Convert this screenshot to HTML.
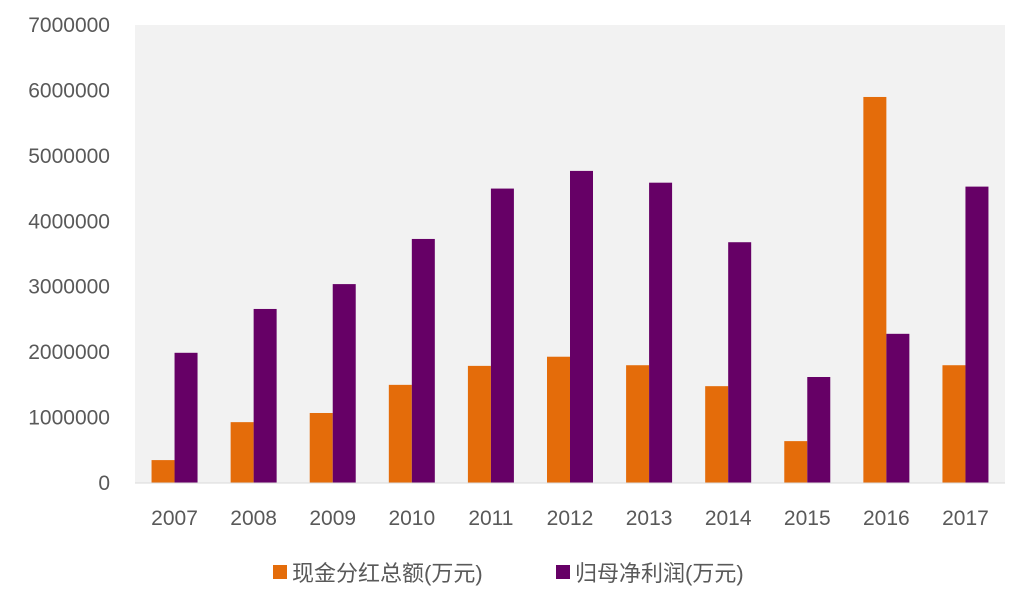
<!DOCTYPE html>
<html><head><meta charset="utf-8"><style>
body{margin:0;background:#fff;width:1017px;height:597px;overflow:hidden}
svg text{font-family:"Liberation Sans","Noto Sans CJK SC",sans-serif;fill:#595959}
</style></head><body>
<svg id="chart" width="1017" height="597"></svg>
<script>
const categories=["2007","2008","2009","2010","2011","2012","2013","2014","2015","2016","2017"];
const dividends=[350000,930000,1070000,1500000,1790000,1930000,1800000,1480000,640000,5900000,1800000];
const profits=[1990000,2660000,3040000,3730000,4500000,4770000,4590000,3680000,1620000,2280000,4530000];
const yTicks=[0,1000000,2000000,3000000,4000000,5000000,6000000,7000000];
const seriesNames=["现金分红总额(万元)","归母净利润(万元)"];
const ns="http://www.w3.org/2000/svg";
const svg=document.getElementById('chart');
const L=135,R=1005,T=25,B=483,yMax=7000000;
const y=v=>B-(v/yMax)*(B-T);
const band=(R-L)/categories.length;
const x=i=>L+band*i;
function mk(t,a,p){const e=document.createElementNS(ns,t);for(const k in a)e.setAttribute(k,a[k]);(p||svg).appendChild(e);return e;}
const bg=mk('rect',{x:L,y:T,width:R-L,height:B-T,fill:'#F2F2F2'});


yTicks.forEach(v=>{const t=mk('text',{x:110,y:y(v)+7,'text-anchor':'end','font-size':21});t.textContent=v;

});
const bw=23;
categories.forEach((c,i)=>{const cx=x(i)+band/2;
const b1=mk('rect',{x:cx-bw,y:y(dividends[i]),width:bw,height:B-y(dividends[i]),fill:'#E46C0A'});


const b2=mk('rect',{x:cx,y:y(profits[i]),width:bw,height:B-y(profits[i]),fill:'#660066'});


const t=mk('text',{x:cx,y:525,'text-anchor':'middle','font-size':21});t.textContent=c;

});
const ax=mk('line',{x1:L,x2:R,y1:B,y2:B,stroke:'#D9D9D9','stroke-width':1});


const lg=[[273,'#E46C0A'],[556,'#660066']];
lg.forEach((l,i)=>{const g=mk('g',{});


mk('rect',{x:l[0],y:565,width:14,height:14,fill:l[1]},g);
const t=mk('text',{x:l[0]+19,y:581,'font-size':22},g);t.textContent=seriesNames[i];});
</script>
</body></html>
